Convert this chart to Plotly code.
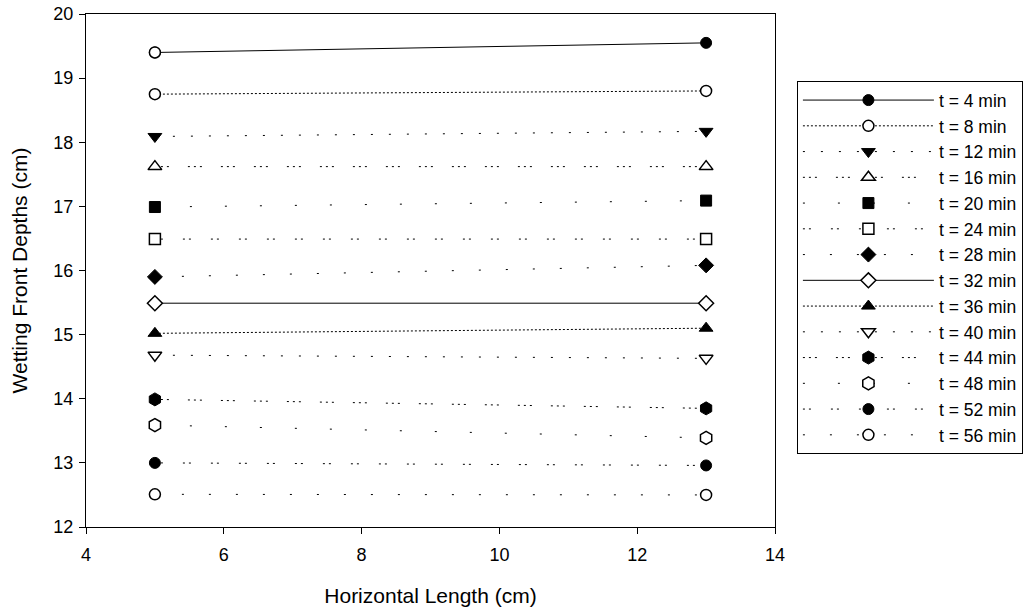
import plotly.graph_objects as go

x_len = [5, 13]
labels = ["t = 4 min", "t = 8 min", "t = 12 min", "t = 16 min", "t = 20 min", "t = 24 min",
          "t = 28 min", "t = 32 min", "t = 36 min", "t = 40 min", "t = 44 min", "t = 48 min",
          "t = 52 min", "t = 56 min"]
depth_left = [19.40, 18.75, 18.09, 17.62, 16.99, 16.49, 15.90, 15.49, 15.02, 14.68, 13.99, 13.59, 13.00, 12.51]
depth_right = [19.55, 18.80, 18.17, 17.62, 17.09, 16.49, 16.08, 15.49, 15.10, 14.63, 13.85, 13.39, 12.96, 12.50]

symbols = ["circle", "circle", "triangle-down", "triangle-up", "square", "square", "diamond",
           "diamond", "triangle-up", "triangle-down", "hexagon", "hexagon", "circle", "circle"]
filled = [True, False, True, False, True, False, True, False, True, False, True, False, True, False]
sizes = [11, 11, 12, 12, 11, 11, 11.5, 11.5, 12, 12, 13, 13, 11, 11]
dashes = ["solid", "2px,2px", "2px,16px", "2px,4px,2px,4px,2px,19px", "2px,33px", "2px,4px,2px,20px",
          "2px,25px", "solid", "2px,2px", "2px,16px", "2px,4px,2px,4px,2px,19px", "2px,33px",
          "2px,4px,2px,20px", "2px,25px"]

FONT = "Liberation Sans, Arial, sans-serif"
fig = go.Figure()
for i, lab in enumerate(labels):
    fig.add_trace(go.Scatter(
        x=x_len, y=[depth_left[i], depth_right[i]], mode="lines+markers", name=lab,
        legendgroup=lab,
        line=dict(color="black", width=1, dash=dashes[i]),
        marker=dict(symbol=symbols[i], size=sizes[i],
                    color="black" if filled[i] else "white",
                    line=dict(color="black", width=1 if filled[i] else 1.5)),
    ))
# the first t = 4 min point is drawn hollow in the original
fig.add_trace(go.Scatter(
    x=[x_len[0]], y=[depth_left[0]], mode="markers", showlegend=False,
    marker=dict(symbol="circle", size=sizes[0], color="white",
                line=dict(color="black", width=1.5)),
))

axis_common = dict(showline=True, linecolor="black", linewidth=1, mirror=True,
                   ticks="outside", ticklen=6, tickcolor="black", tickwidth=1,
                   showgrid=False, zeroline=False, automargin=False,
                   tickfont=dict(family=FONT, size=18, color="black"))
fig.update_xaxes(range=[4, 14], dtick=2, tick0=4, ticklabelstandoff=5,
                 title=dict(text="Horizontal Length (cm)", font=dict(family=FONT, size=21, color="black"),
                            standoff=24),
                 **axis_common)
fig.update_yaxes(range=[12, 20], dtick=1, tick0=12, ticklabelstandoff=2,
                 title=dict(text="Wetting Front Depths (cm)", font=dict(family=FONT, size=21, color="black"),
                            standoff=20),
                 **axis_common)
fig.update_layout(
    width=1035, height=613,
    margin=dict(l=86, r=258, t=14, b=86),
    plot_bgcolor="white", paper_bgcolor="white",
    font=dict(family=FONT, color="black"),
    legend=dict(x=1.0318, xanchor="left", y=0.869, yanchor="top",
                bordercolor="black", borderwidth=1, bgcolor="white",
                font=dict(family=FONT, size=17.5, color="black"),
                itemwidth=131, tracegroupgap=0, traceorder="normal"),
)
fig.write_html("out.html")
